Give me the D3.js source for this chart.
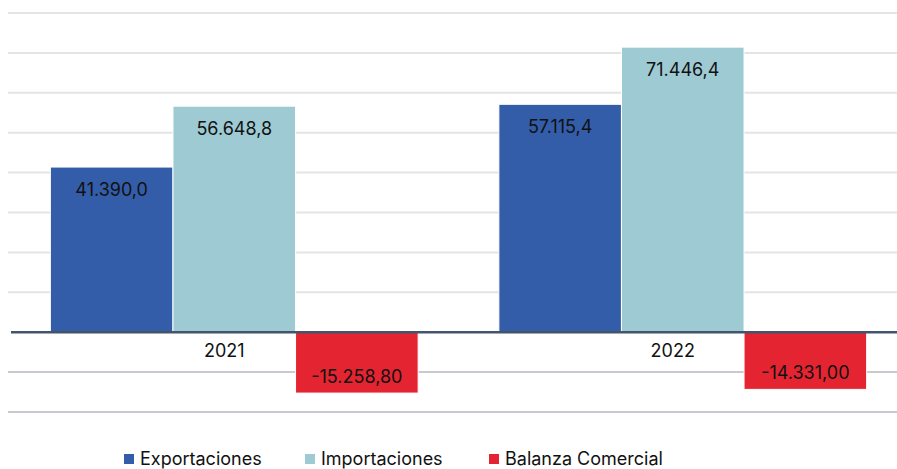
<!DOCTYPE html>
<html>
<head>
<meta charset="utf-8">
<script src="https://cdn.jsdelivr.net/npm/d3@7/dist/d3.min.js"></script>
<style>
  html, body { margin: 0; padding: 0; background: #fff; }
  svg { display: block; font-family: Inter, "Noto Sans", sans-serif; }
</style>
</head>
<body>
<svg id="chart" width="897" height="469"></svg>
<script>
// Trade figures per year (millions)
const years = ["2021", "2022"];
const seriesNames = ["Exportaciones", "Importaciones", "Balanza Comercial"];
const exportaciones = [41390.0, 57115.4];
const importaciones = [56648.8, 71446.4];
const balanza = [-15258.80, -14331.00];
const valueLabels = [
  ["41.390,0", "57.115,4"],
  ["56.648,8", "71.446,4"],
  ["-15.258,80", "-14.331,00"]
];
const gridTicks = [-20000, -10000, 0, 10000, 20000, 30000, 40000, 50000, 60000, 70000, 80000];
const colors = ["#335DA9", "#9DCAD3", "#E52432"];

const series = [exportaciones, importaciones, balanza];

const width = 897, height = 469;
const svg = d3.select("#chart");

const y = d3.scaleLinear().domain([-20000, 80000]).range([412, 13]);
const x = d3.scaleBand().domain(years).range([10, 907]).paddingInner(0).paddingOuter(0);
const groupWidth = x.bandwidth() * 0.82;
const inner = d3.scaleBand().domain(seriesNames).range([0, groupWidth]);

// gridlines
svg.append("g")
  .selectAll("line")
  .data(gridTicks.filter(d => d !== 0))
  .join("line")
  .attr("x1", 8).attr("x2", width)
  .attr("y1", d => y(d)).attr("y2", d => y(d))
  .attr("stroke", d => d < 0 ? "#c9c9cf" : "#e4e4e4")
  .attr("stroke-width", 2);

// bars
const groups = svg.append("g")
  .selectAll("g")
  .data(years)
  .join("g")
  .attr("transform", d => `translate(${x(d) + (x.bandwidth() - groupWidth) / 2},0)`);

groups.each(function(year, yi) {
  const g = d3.select(this);
  seriesNames.forEach((name, si) => {
    const v = series[si][yi];
    g.append("rect")
      .attr("x", inner(name))
      .attr("width", inner.bandwidth())
      .attr("y", Math.min(y(v), y(0)))
      .attr("height", Math.abs(y(v) - y(0)))
      .attr("fill", colors[si])
      .attr("stroke", "#fff")
      .attr("stroke-width", 1);
  });
});

// zero axis
svg.append("line")
  .attr("x1", 11).attr("x2", width)
  .attr("y1", y(0)).attr("y2", y(0))
  .attr("stroke", "#44546A")
  .attr("stroke-width", 2.5);

// value labels
groups.each(function(year, yi) {
  const g = d3.select(this);
  seriesNames.forEach((name, si) => {
    const v = series[si][yi];
    g.append("text")
      .attr("x", inner(name) + inner.bandwidth() / 2)
      .attr("y", v >= 0 ? y(v) + 29 : y(v) - 10)
      .attr("text-anchor", "middle")
      .attr("font-size", 18)
      .attr("fill", "#111")
      .text(valueLabels[si][yi]);
  });
});

// category labels
svg.append("g")
  .selectAll("text")
  .data(years)
  .join("text")
  .attr("x", d => x(d) + x.bandwidth() / 2 - 10)
  .attr("y", 357)
  .attr("text-anchor", "middle")
  .attr("font-size", 18)
  .attr("fill", "#111")
  .text(d => d);

// legend
const legendX = [124, 305, 489];
const legend = svg.append("g")
  .selectAll("g")
  .data(seriesNames)
  .join("g")
  .attr("transform", (d, i) => `translate(${legendX[i]},454)`);
legend.append("rect")
  .attr("width", 10).attr("height", 10)
  .attr("fill", (d, i) => colors[i]);
legend.append("text")
  .attr("x", 16).attr("y", 11)
  .attr("font-size", 18)
  .attr("fill", "#111")
  .text(d => d);
</script>
</body>
</html>
